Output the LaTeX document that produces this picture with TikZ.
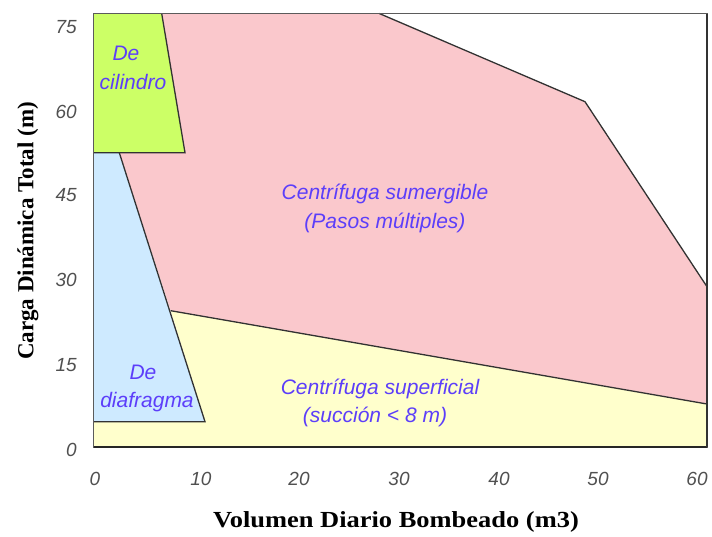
\documentclass[tikz,border=0pt]{standalone}
\usepackage{fontspec}
\setmainfont{Liberation Serif}
\setsansfont{Liberation Sans}
\definecolor{cgreen}{RGB}{204,255,102}
\definecolor{cpink}{RGB}{250,200,204}
\definecolor{cblue}{RGB}{206,234,255}
\definecolor{cyellow}{RGB}{255,255,204}
\definecolor{ctext}{RGB}{92,62,250}
\definecolor{cedge}{RGB}{50,50,50}
\definecolor{ctick}{RGB}{80,80,80}
\tikzset{
  region/.style={draw=cedge, line width=1.3pt, line join=miter},
  lbl/.style={font=\sffamily\itshape\fontsize{21}{25}\selectfont, text=ctext, align=center, inner sep=0pt},
  tick/.style={font=\sffamily\itshape\fontsize{19}{22}\selectfont, text=ctick, inner sep=0pt},
  axtitle/.style={font=\rmfamily\bfseries\fontsize{23}{27}\selectfont, text=black, inner sep=0pt}
}
\begin{document}
\begin{tikzpicture}[x=1pt,y=-1pt]
\useasboundingbox (0,0) rectangle (712,536);
% vertices
\coordinate (bl) at (93.5,447);
\coordinate (br) at (707,447);
\coordinate (tl) at (93.5,13.5);
\coordinate (tr) at (707,13.5);
\coordinate (gtr) at (161.7,13.5);
\coordinate (gbr) at (185,152.7);
\coordinate (gbl) at (93.5,152.7);
\coordinate (btr) at (119.3,152.7);
\coordinate (bbr) at (205,421.7);
\coordinate (bbl) at (93.5,421.7);
\coordinate (jn) at (170.7,310.7);
\coordinate (yr) at (707,404);
\coordinate (pr) at (707,286.7);
\coordinate (p1) at (585,101.7);
\coordinate (p2) at (379.3,13.5);
% regions
\fill[cyellow] (bl) -- (br) -- (yr) -- (jn) -- (bbr) -- (bbl) -- cycle;
\fill[cpink] (gtr) -- (p2) -- (p1) -- (pr) -- (yr) -- (jn) -- (btr) -- (gbr) -- cycle;
\fill[cgreen] (tl) -- (gtr) -- (gbr) -- (gbl) -- cycle;
\fill[cblue] (gbl) -- (btr) -- (bbr) -- (bbl) -- cycle;
\draw[region] (gtr) -- (gbr) -- (gbl);
\draw[region] (btr) -- (bbr) -- (bbl);
\draw[region] (jn) -- (yr);
\draw[region] (p2) -- (p1) -- (pr);
\draw[draw=cedge!80, line width=1.4pt] (tl) rectangle (br);
\draw[draw=black!85, line width=1.8pt] (bl) -- (br);
\draw[draw=black!80, line width=1.8pt] (br) -- (tr);
% region labels
\node[lbl] (cil1) at (126,53) {De};
\node[lbl] (cil2) at (133,82) {cilindro};
\node[lbl] (dia1) at (143,372) {De};
\node[lbl] (dia2) at (147,402) {diafragma};
\node[lbl] (sum1) at (385,194) {Centrífuga sumergible};
\node[lbl] (sum2) at (385,223) {(Pasos múltiples)};
\node[lbl] (sup1) at (380,389) {Centrífuga superficial};
\node[lbl] (sup2) at (375,417) {(succión < 8 m)};
% y ticks
\node[tick, anchor=east] (y75) at (77,27) {75};
\node[tick, anchor=east] (y60) at (77,112) {60};
\node[tick, anchor=east] (y45) at (77,195) {45};
\node[tick, anchor=east] (y30) at (77,280) {30};
\node[tick, anchor=east] (y15) at (77,365) {15};
\node[tick, anchor=east] (y0) at (77,450) {0};
% x ticks
\node[tick] (x0) at (95,479) {0};
\node[tick] (x10) at (201,479) {10};
\node[tick] (x20) at (299,479) {20};
\node[tick] (x30) at (399,479) {30};
\node[tick] (x40) at (499,479) {40};
\node[tick] (x50) at (598,479) {50};
\node[tick] (x60) at (697,479) {60};
% axis titles
\node[axtitle, xscale=1.15] (xt) at (396,522) {Volumen Diario Bombeado (m3)};
\node[axtitle, rotate=90] (yt) at (28,231) {Carga Dinámica Total (m)};
\end{tikzpicture}
\end{document}
